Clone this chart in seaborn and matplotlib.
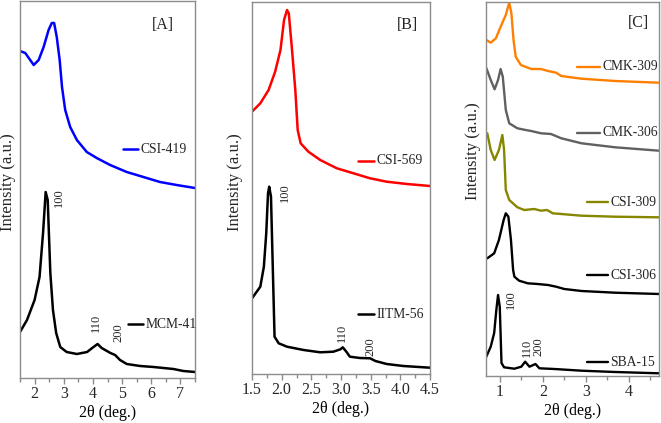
import matplotlib
matplotlib.use("Agg")
import matplotlib.pyplot as plt
import seaborn as sns
from matplotlib.ticker import MultipleLocator, FormatStrFormatter

sns.set_theme(style="white")
plt.rcParams['font.family'] = ['Liberation Serif', 'DejaVu Serif']

# ---------------- Panel A ----------------
a_mcm_x = [1.5, 1.74, 2.0, 2.17, 2.29, 2.38, 2.45, 2.54, 2.63, 2.74, 2.88, 3.1, 3.45, 3.8,
           4.02, 4.16, 4.3, 4.6, 4.76, 4.93, 5.16, 5.62, 6.08, 6.42, 6.76, 7.1, 7.5]
a_mcm_y = [46, 58, 78, 101, 145, 186, 178, 105, 68, 45, 31, 26, 24, 26,
           31, 34, 30, 25, 23, 18, 14, 12, 11, 10, 9, 7, 6]
a_csi_x = [1.5, 1.68, 1.97, 2.14, 2.31, 2.48, 2.59, 2.67, 2.76, 2.86, 2.94, 3.05, 3.22, 3.45,
           3.79, 4.13, 4.59, 5.16, 5.73, 6.3, 6.87, 7.5]
a_csi_y = [327, 325, 313, 318, 331, 348, 355, 355, 341, 318, 291, 268, 251, 238,
           226, 220, 213, 206, 201, 196, 193, 190]

# ---------------- Panel B ----------------
b_iitm_x = [1.5, 1.64, 1.70, 1.74, 1.77, 1.79, 1.82, 1.85, 1.88, 1.95, 2.09, 2.37, 2.65, 2.87,
            2.99, 3.03, 3.09, 3.15, 3.32, 3.49, 3.58, 3.77, 4.05, 4.5]
b_iitm_y = [75.7, 87.3, 107.3, 140.7, 180.7, 187.3, 177.3, 107.3, 37.3, 30.7, 27.3, 24, 21.7, 22.3,
            24.7, 26.7, 22.3, 17.3, 16, 15.7, 13, 10, 8, 6.3]
b_csi_x = [1.5, 1.64, 1.78, 1.89, 1.98, 2.04, 2.09, 2.12, 2.17, 2.23, 2.27, 2.32, 2.45, 2.65,
           2.93, 3.21, 3.49, 3.77, 4.11, 4.5]
b_csi_y = [262.3, 270.7, 284, 302.3, 324, 354, 364, 360.7, 327.3, 284, 244, 230.7, 222.3, 214,
           205.7, 200.7, 195.7, 192.3, 190, 188]

# ---------------- Panel C ----------------
c_sba_x = [0.68, 0.79, 0.87, 0.92, 0.96, 1.0, 1.04, 1.1, 1.34, 1.5, 1.59, 1.69, 1.83, 1.92,
           2.27, 2.9, 3.68, 4.7]
c_sba_y = [18.7, 29.3, 43, 66, 81, 69.3, 13, 8.7, 7.3, 9.3, 14.3, 9.3, 12, 7.7,
           7, 5.3, 4, 2.7]
c_csi306_x = [0.71, 0.87, 0.98, 1.09, 1.14, 1.2, 1.26, 1.31, 1.34, 1.45, 1.65, 1.88, 2.12, 2.31,
              2.5, 2.9, 3.68, 4.7]
c_csi306_y = [117.7, 122.7, 136, 156, 162.7, 159.3, 136, 106, 99.3, 95.3, 92.7, 92, 91, 89.3,
              87, 85, 83.3, 82]
c_csi309_x = [0.71, 0.79, 0.88, 0.98, 1.06, 1.1, 1.14, 1.22, 1.41, 1.57, 1.8, 1.96, 2.1, 2.23,
              2.9, 3.68, 4.7]
c_csi309_y = [242.7, 226, 216, 226, 241, 226, 186, 176, 168.7, 166, 167, 165.3, 166, 162.7,
              160.3, 159.3, 158.7]
c_cmk306_x = [0.69, 0.79, 0.88, 0.96, 1.02, 1.07, 1.14, 1.22, 1.41, 1.6, 1.73, 1.96, 2.19, 2.43,
              2.9, 3.68, 4.7]
c_cmk306_y = [307.7, 296, 286.7, 296, 307, 299.3, 266, 252.7, 247.7, 246, 245, 242.7, 242, 237.7,
              232.7, 228.7, 225.3]
c_cmk309_x = [0.69, 0.79, 0.91, 1.02, 1.14, 1.22, 1.27, 1.32, 1.37, 1.49, 1.73, 1.96, 2.12, 2.31,
              2.43, 2.9, 3.68, 4.7]
c_cmk309_y = [336, 333.3, 337.7, 349.3, 361, 373.3, 362.7, 336, 319.3, 311, 307, 307, 305, 303.3,
              300, 297.3, 295, 293.3]

W, H = 661, 423
fig = plt.figure(figsize=(W / 100, H / 100), dpi=100)


def add_ax(left, right, top, bottom):
    return fig.add_axes([left / W, 1 - bottom / H, (right - left) / W, (bottom - top) / H])


axA = add_ax(20, 195, 1, 378)
axB = add_ax(252, 430, 2, 374)
axC = add_ax(486, 659, 2, 376)

LW = 1.8
GRAY = "#8c8c8c"

sns.lineplot(x=a_csi_x, y=a_csi_y, ax=axA, color="#0000ff", lw=LW, sort=False, estimator=None)
sns.lineplot(x=a_mcm_x, y=a_mcm_y, ax=axA, color="black", lw=LW, sort=False, estimator=None)
sns.lineplot(x=b_csi_x, y=b_csi_y, ax=axB, color="#ff0000", lw=LW, sort=False, estimator=None)
sns.lineplot(x=b_iitm_x, y=b_iitm_y, ax=axB, color="black", lw=LW, sort=False, estimator=None)

# (x, y, colour, label, legend line x0, x1, legend y) in axes fractions
c_series = [
    (c_cmk309_x, c_cmk309_y, "#ff8000", "CMK-309", 0.526, 0.659, 0.827),
    (c_cmk306_x, c_cmk306_y, "#606060", "CMK-306", 0.526, 0.659, 0.650),
    (c_csi309_x, c_csi309_y, "#868600", "CSI-309", 0.584, 0.705, 0.464),
    (c_csi306_x, c_csi306_y, "black", "CSI-306", 0.584, 0.705, 0.270),
    (c_sba_x, c_sba_y, "black", "SBA-15", 0.584, 0.705, 0.037),
]
for xs, ys, col, lab, x0, x1, fy in c_series:
    sns.lineplot(x=xs, y=ys, ax=axC, color=col, lw=1.7, sort=False, estimator=None)

axA.set_xlim(1.5, 7.5); axA.set_ylim(0, 377)
axB.set_xlim(1.5, 4.5); axB.set_ylim(0, 372)
axC.set_xlim(0.68, 4.7); axC.set_ylim(0, 374)

axA.xaxis.set_major_locator(MultipleLocator(1)); axA.xaxis.set_minor_locator(MultipleLocator(0.5))
axB.xaxis.set_major_locator(MultipleLocator(0.5)); axB.xaxis.set_minor_locator(MultipleLocator(0.25))
axC.xaxis.set_major_locator(MultipleLocator(1)); axC.xaxis.set_minor_locator(MultipleLocator(0.5))
axB.xaxis.set_major_formatter(FormatStrFormatter('%.1f'))

for ax in (axA, axB, axC):
    for s in ax.spines.values():
        s.set_visible(True)
        s.set_color(GRAY)
        s.set_linewidth(1.0)
    ax.set_yticks([])
    ax.tick_params(axis='x', which='major', direction='out', length=4, width=1, color=GRAY,
                   labelsize=11.5, pad=2, bottom=True)
    ax.tick_params(axis='x', which='minor', direction='out', length=3, width=1, color=GRAY, bottom=True)
    ax.set_xlabel("2θ (deg.)", fontsize=11.5, labelpad=2, color="black")
    ax.set_ylabel("")
    ax.grid(False)


def legend_item(ax, x0, x1, fy, color, label, lw=LW):
    ax.plot([x0, x1], [fy, fy], transform=ax.transAxes, color=color, lw=lw, clip_on=False)
    ax.text(x1 + 0.014, fy, label, transform=ax.transAxes, fontsize=9.8, va='center', ha='left')


PK = 9

# Panel A annotations
legend_item(axA, 0.589, 0.674, 0.607, "#0000ff", "CSI-419")
legend_item(axA, 0.617, 0.703, 0.143, "black", "MCM-41")
axA.text(2.85, 180, "100", rotation=90, fontsize=PK, ha='center', va='center')
axA.text(4.11, 55, "110", rotation=90, fontsize=PK, ha='center', va='center')
axA.text(4.86, 45, "200", rotation=90, fontsize=PK, ha='center', va='center')
axA.text(0.817, 0.936, "[A]", transform=axA.transAxes, fontsize=11.5, ha='center', va='center')
axA.text(-0.069, 0.52, "Intensity (a.u.)", transform=axA.transAxes, rotation=90,
         fontsize=12, ha='center', va='center')

# Panel B annotations
legend_item(axB, 0.596, 0.685, 0.573, "#ff0000", "CSI-569")
legend_item(axB, 0.596, 0.685, 0.161, "black", "IITM-56")
axB.text(2.056, 181, "100", rotation=90, fontsize=PK, ha='center', va='center')
axB.text(3.01, 41, "110", rotation=90, fontsize=PK, ha='center', va='center')
axB.text(3.49, 27, "200", rotation=90, fontsize=PK, ha='center', va='center')
axB.text(0.876, 0.938, "[B]", transform=axB.transAxes, fontsize=11.5, ha='center', va='center')
axB.text(-0.096, 0.516, "Intensity (a.u.)", transform=axB.transAxes, rotation=90,
         fontsize=12, ha='center', va='center')

# Panel C annotations
for xs, ys, col, lab, x0, x1, fy in c_series:
    legend_item(axC, x0, x1, fy, col, lab, lw=1.7)
axC.text(1.26, 76, "100", rotation=90, fontsize=PK, ha='center', va='center')
axC.text(1.63, 28, "110", rotation=90, fontsize=PK, ha='center', va='center')
axC.text(1.90, 29, "200", rotation=90, fontsize=PK, ha='center', va='center')
axC.text(0.879, 0.944, "[C]", transform=axC.transAxes, fontsize=11.5, ha='center', va='center')
axC.text(-0.075, 0.6, "Intensity (a.u.)", transform=axC.transAxes, rotation=90,
         fontsize=12, ha='center', va='center')

fig.savefig("out.png", dpi=100)
